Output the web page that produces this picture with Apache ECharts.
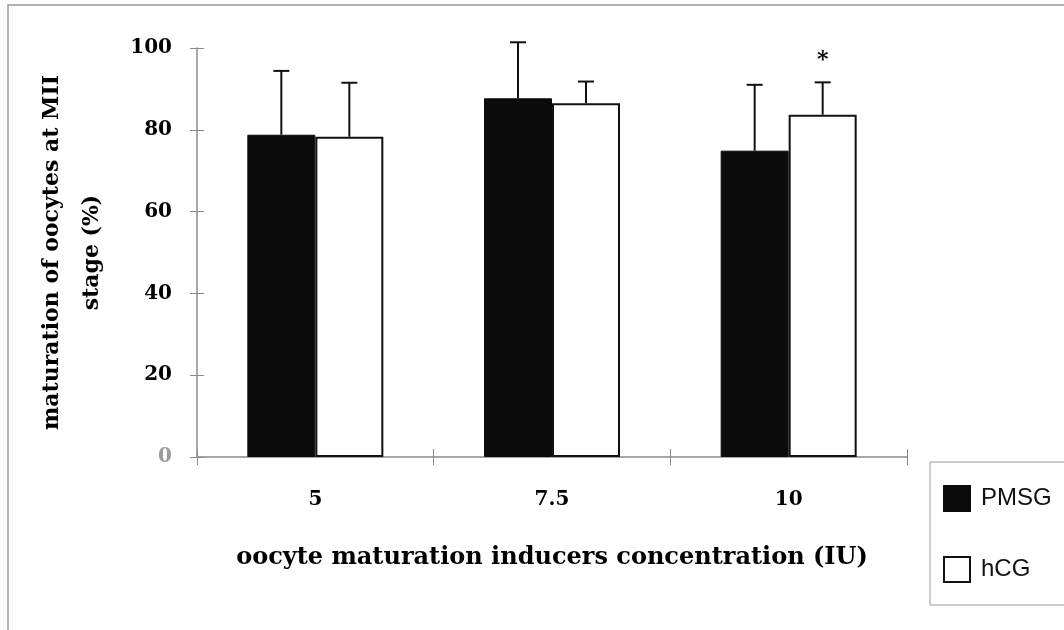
<!DOCTYPE html>
<html>
<head>
<meta charset="utf-8">
<script src="https://cdn.jsdelivr.net/npm/echarts@6/dist/echarts.min.js"></script>
<style>
  html, body { margin: 0; padding: 0; background: #fff; }
  #chart { width: 1064px; height: 630px; }
</style>
</head>
<body>
<div id="chart"></div>
<script>
// values
var categories = ['5', '7.5', '10'];
var pmsgMean = [78.8, 87.7, 74.9];
var pmsgErrTop = [94.4, 101.4, 91.0];
var hcgMean = [78.3, 86.5, 83.7];
var hcgErrTop = [91.5, 91.8, 91.6];
var hcgSignif = ['', '', '*'];

var BAR_W = 68;
var serif = '"DejaVu Serif", "Liberation Serif", serif';

var chart = echarts.init(document.getElementById('chart'));

function errorBar(offset, marks) {
  return function (params, api) {
    var idx = api.value(0);
    var base = api.coord([idx, api.value(1)]);
    var top = api.coord([idx, api.value(2)]);
    var x = base[0] + offset;
    var children = [
      { type: 'line', shape: { x1: x, y1: base[1], x2: x, y2: top[1] },
        style: { stroke: '#111', lineWidth: 2 } },
      { type: 'line', shape: { x1: x - 8, y1: top[1], x2: x + 8, y2: top[1] },
        style: { stroke: '#111', lineWidth: 2 } }
    ];
    if (marks && marks[idx]) {
      children.push({
        type: 'text',
        style: { text: marks[idx], x: x, y: top[1] - 22, align: 'center', verticalAlign: 'middle',
          font: 'bold 22px ' + serif, fill: '#000' }
      });
    }
    return { type: 'group', children: children };
  };
}

var axisGrey = '#8a8a8a';

var option = {
  backgroundColor: '#fff',
  animation: false,
  graphic: [{
    type: 'polyline',
    shape: { points: [[8, 640], [8, 5], [1070, 5]] },
    style: { stroke: '#999', lineWidth: 1.5, fill: null }
  }],
  grid: { left: 197, right: 157, top: 48, bottom: 173 },
  legend: {
    orient: 'vertical',
    left: 930,
    top: 462,
    padding: [23, 14, 22, 13],
    itemGap: 44,
    itemWidth: 26,
    itemHeight: 25,
    icon: 'rect',
    borderColor: '#999',
    borderWidth: 1,
    textStyle: { fontFamily: '"Liberation Sans", Arial, sans-serif', fontSize: 24, color: '#111', padding: [0, 0, 0, 6] },
    data: ['PMSG', 'hCG']
  },
  xAxis: [{
    type: 'category',
    data: categories,
    name: 'oocyte maturation inducers concentration (IU)',
    nameLocation: 'middle',
    nameGap: 89,
    nameMoveOverlap: false,
    nameTextStyle: { fontFamily: serif, fontWeight: 'bold', fontSize: 24, color: '#000' },
    axisLine: { lineStyle: { color: axisGrey, width: 1.5 } },
    axisTick: { show: true, length: 8, lineStyle: { color: axisGrey } },
    axisLabel: { margin: 33, fontFamily: serif, fontWeight: 'bold', fontSize: 20, color: '#000' }
  }, {
    // second copy only to draw the inner half of the crossing ticks
    type: 'category',
    data: categories,
    position: 'bottom',
    axisLine: { show: false },
    axisTick: { show: true, inside: true, length: 8, lineStyle: { color: axisGrey } },
    axisLabel: { show: false }
  }],
  yAxis: [{
    type: 'value',
    min: 0,
    max: 100,
    interval: 20,
    name: 'maturation of oocytes at MII\nstage (%)',
    nameLocation: 'middle',
    nameGap: 85,
    nameMoveOverlap: false,
    nameTextStyle: { fontFamily: serif, fontWeight: 'bold', fontSize: 22, lineHeight: 40, color: '#000' },
    axisLine: { show: true, lineStyle: { color: axisGrey, width: 1.5 } },
    axisTick: { show: true, length: 7, lineStyle: { color: axisGrey } },
    splitLine: { show: false },
    axisLabel: {
      margin: 25, fontFamily: serif, fontWeight: 'bold', fontSize: 20,
      color: function (v) { return Number(v) === 0 ? '#9a9a9a' : '#000'; }
    }
  }, {
    type: 'value',
    min: 0,
    max: 100,
    interval: 20,
    position: 'left',
    axisLine: { show: false },
    axisTick: { show: true, inside: true, length: 7, lineStyle: { color: axisGrey } },
    splitLine: { show: false },
    axisLabel: { show: false }
  }],
  series: [
    {
      name: 'PMSG',
      type: 'bar',
      barWidth: BAR_W,
      barGap: '0%',
      data: pmsgMean,
      itemStyle: { color: '#0b0b0b', borderColor: '#0b0b0b', borderWidth: 1 }
    },
    {
      name: 'hCG',
      type: 'bar',
      barWidth: BAR_W,
      barGap: '0%',
      data: hcgMean,
      itemStyle: { color: '#fff', borderColor: '#111', borderWidth: 2 }
    },
    {
      type: 'custom',
      renderItem: errorBar(-BAR_W / 2, null),
      data: pmsgMean.map(function (v, i) { return [i, v, pmsgErrTop[i]]; }),
      z: 5
    },
    {
      type: 'custom',
      renderItem: errorBar(BAR_W / 2, hcgSignif),
      data: hcgMean.map(function (v, i) { return [i, v, hcgErrTop[i]]; }),
      z: 5
    }
  ]
};

chart.setOption(option);
</script>
</body>
</html>
